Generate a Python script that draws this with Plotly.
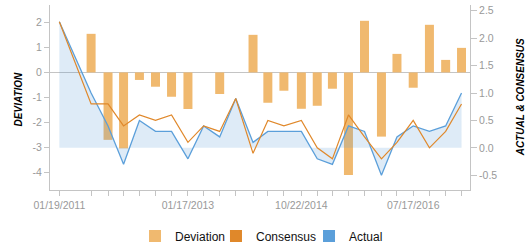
import plotly.graph_objects as go

# ---- data ----
dates = ["2011-01-19", "2011-07-18", "2011-10-22", "2012-01-18", "2012-04-17",
         "2012-07-17", "2012-10-16", "2013-01-17", "2013-04-16", "2013-07-16",
         "2013-10-15", "2014-01-21", "2014-04-15", "2014-07-15", "2014-10-22",
         "2015-01-20", "2015-04-16", "2015-07-16", "2015-10-15", "2016-01-19",
         "2016-04-16", "2016-07-17", "2016-10-17", "2017-01-17", "2017-04-17"]
deviation = [0, 1.54, -2.69, -3.03, -0.30, -0.57, -0.97, -1.46, 0, -0.86,
             0, 1.50, -1.21, -0.73, -1.45, -1.33, -0.65, -4.09, 2.06, -2.56,
             0.74, -0.61, 1.90, 0.50, 0.98]
consensus = [2.3, 0.8, 0.8, 0.4, 0.6, 0.5, 0.6, 0.1, 0.4, 0.3,
             0.9, -0.1, 0.5, 0.4, 0.5, 0.0, -0.2, 0.6, 0.2, -0.2,
             0.1, 0.5, 0.0, 0.3, 0.8]
actual = [2.3, 1.0, 0.4, -0.3, 0.5, 0.3, 0.3, -0.2, 0.4, 0.2,
          0.9, 0.1, 0.3, 0.3, 0.3, -0.2, -0.3, 0.4, 0.3, -0.5,
          0.2, 0.4, 0.3, 0.4, 1.0]
x_labels = ["01/19/2011", "01/17/2013", "10/22/2014", "07/17/2016"]
left_ticks = [-4, -3, -2, -1, 0, 1, 2]
left_ticktext = ["-4", "-3", "-2", "-1", "0", "1", "2"]
right_ticks = [-0.5, 0.0, 0.5, 1.0, 1.5, 2.0, 2.5]
right_ticktext = ["-0.5", "0.0", "0.5", "1.0", "1.5", "2.0", "2.5"]

# ---- styles ----
BAR = "#F0B96F"
ORANGE = "#E0882A"
BLUE = "#5B9FDA"
FILL = "rgba(91,155,213,0.2)"
AXIS = "#C4C4C4"
TICKFONT = dict(family="Liberation Sans, Arial, sans-serif", size=10.5, color="#999999")
FONT = "Liberation Sans, Arial, sans-serif"
BAR_WIDTH_MS = 51 * 86400000

step = 7
x_ticktext = [x_labels[i // step] if i % step == 0 else "" for i in range(len(dates))]

fig = go.Figure()
fig.add_trace(go.Bar(x=dates, y=deviation, name="Deviation", yaxis="y",
                     width=BAR_WIDTH_MS, marker=dict(color=BAR, line=dict(width=0)),
                     legend="legend"))
fig.add_trace(go.Scatter(x=dates, y=actual, name="Actual", yaxis="y2", mode="lines",
                         fill="tozeroy", fillcolor=FILL,
                         line=dict(color=BLUE, width=1.3), showlegend=False))
fig.add_trace(go.Scatter(x=dates, y=consensus, name="Consensus", yaxis="y2", mode="lines",
                         line=dict(color=ORANGE, width=1.2), showlegend=False))
# legend-only swatches (square, like the reference)
fig.add_trace(go.Bar(x=[None], y=[None], name="Consensus", yaxis="y2",
                     marker=dict(color=ORANGE, line=dict(width=0)), legend="legend2"))
fig.add_trace(go.Bar(x=[None], y=[None], name="Actual", yaxis="y2",
                     marker=dict(color=BLUE, line=dict(width=0)), legend="legend3"))

LEG = dict(orientation="h", xanchor="left", y=-0.17, yanchor="top",
           font=dict(family=FONT, size=12, color="#111111"), bgcolor="rgba(0,0,0,0)")

fig.update_layout(
    width=529, height=250,
    margin=dict(l=50, r=59, t=5, b=60, autoexpand=False),
    paper_bgcolor="white", plot_bgcolor="white",
    font=dict(family=FONT),
    barmode="overlay",
    showlegend=True,
    legend=dict(LEG, x=0.2024),
    legend2=dict(LEG, x=0.3952),
    legend3=dict(LEG, x=0.6167),
    xaxis=dict(type="date", range=["2010-11-27", "2017-06-04"],
               tickvals=dates, ticktext=x_ticktext, tickfont=TICKFONT,
               showgrid=False, zeroline=False, showline=True, linecolor=AXIS, linewidth=1,
               ticks="outside", ticklen=5, tickcolor=AXIS),
    yaxis=dict(range=[-4.69, 2.69], tickvals=left_ticks, ticktext=left_ticktext,
               tickfont=TICKFONT, showgrid=False, zeroline=True, zerolinecolor=AXIS,
               zerolinewidth=1, showline=True, linecolor=AXIS, linewidth=1,
               ticks="outside", ticklen=5, tickcolor=AXIS),
    yaxis2=dict(range=[-0.768, 2.604], overlaying="y", side="right",
                tickvals=right_ticks, ticktext=right_ticktext, tickfont=TICKFONT,
                showgrid=False, zeroline=False, showline=True, linecolor=AXIS, linewidth=1,
                ticks="outside", ticklen=6, tickcolor=AXIS),
    annotations=[
        dict(text="DEVIATION", xref="paper", yref="paper", x=-0.076, y=0.49,
             xanchor="center", yanchor="middle", textangle=-90, showarrow=False,
             font=dict(family=FONT, size=10, color="#000000", weight="bold", style="italic")),
        dict(text="ACTUAL &amp; CONSENSUS", xref="paper", yref="paper", x=1.121, y=0.5,
             xanchor="center", yanchor="middle", textangle=-90, showarrow=False,
             font=dict(family=FONT, size=10, color="#000000", weight="bold", style="italic")),
    ],
)

fig.write_html("out.html")
